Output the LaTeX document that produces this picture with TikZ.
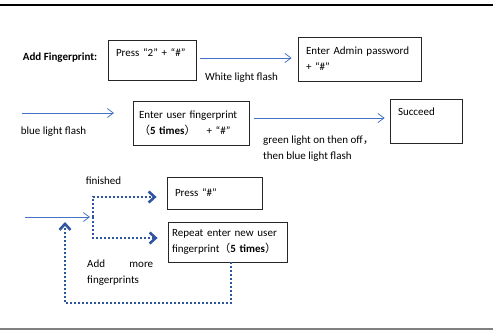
\documentclass[tikz,border=0pt]{standalone}
\usepackage{fontspec}
\setmainfont{Carlito}
\newfontfamily\cjk{Noto Sans CJK SC}
\usetikzlibrary{arrows.meta}
\definecolor{lineblue}{RGB}{68,114,196}
\definecolor{dotblue}{RGB}{47,85,160}

\begin{document}
\begin{tikzpicture}[
	x=1pt, y=-1pt,
	font=\fontsize{11}{16}\selectfont,
	box/.style={
		rectangle,
		draw=black!85,
		line width=0.8pt,
		align=left,
		inner xsep=8pt,
		inner ysep=4pt
	},
	note/.style={
		align=left,
		inner sep=0pt
	},
	flow/.style={
		draw=lineblue,
		line width=0.8pt,
		-{Straight Barb[length=6pt,width=9pt]}
	},
	dotflow/.style={
		draw=dotblue,
		line width=2pt,
		dash pattern=on 2pt off 2pt,
		-{Straight Barb[length=6pt,width=11pt,line width=2.6pt]}
	},
]
\useasboundingbox (0,0) rectangle (493,330);

% Page rules
\draw[line width=2pt] (0,5) -- (493,5);
\draw[gray, line width=1.2pt] (0,329) -- (493,329);

% Row 1
\node (title) at (60,58) {\bfseries Add Fingerprint:};
\node[box, text width=72pt, text height=12pt, text depth=20pt] (press2) at (152,60) {Press “2” + “\#”};
\node[box, text width=107pt, minimum height=44pt] (admin) at (359.5,59) {Enter Admin password\\+ “\#”};
\node[note] (white) at (241.5,78) {White light flash};

% Row 2
\node[box, text width=104pt, inner xsep=6pt, minimum height=44pt] (user) at (191,123) {Enter user fingerprint\\{\cjk （}\textbf{5 times}{\cjk ）}\quad + “\#”};
\node[box, text width=56pt, text height=12pt, text depth=24pt] (succ) at (426,121) {Succeed};
\node[note] (blue) at (53.5,132) {blue light flash};
\node[note, anchor=west] (green) at (263,148.5) {green light on then off{\cjk ，}\\then blue light flash};

% Row 3
\node[box, text width=79pt, minimum height=32pt] (pressh) at (214.5,193) {Press “\#”};
\node[box, text width=111pt, inner xsep=4pt, minimum height=40pt] (again) at (227.5,242) {Repeat enter new user\\fingerprint{\cjk （}\textbf{5 times}{\cjk ）}};
\node[note] (fin) at (103.5,181) {finished};
\node[note, anchor=west, text width=66pt] (more) at (87,272.5) {Add\hfill more\\fingerprints};

\coordinate (b0) at (22,113);
\coordinate (b1) at (114,113);
\coordinate (in3) at (25,217);
\coordinate (split) at (93,217);
\coordinate (back) at (65,222);

% Connection Row 1
\draw[flow, shorten <=4pt, shorten >=6pt] ([yshift=2pt]press2.east) -- ([yshift=2pt]press2.east -| admin.west);

% Connection Row 2
\draw[flow] (b0) -- (b1);
\draw[flow, shorten <=5pt, shorten >=5pt] ([yshift=5pt]user.east) -- ([yshift=5pt]user.east -| succ.west);

% Connection Row 3
\draw[flow, shorten >=3pt] (in3) -- (split);
\foreach \n/\s in {pressh/-4, again/4}
	\draw[dotflow, shorten >=10pt] (split) |- ([yshift=\s pt]\n.west);

% Loop back
\draw[dotflow] ([xshift=3.5pt]again.south) -- ++(0,41) -| (back);

\end{tikzpicture}
\end{document}
